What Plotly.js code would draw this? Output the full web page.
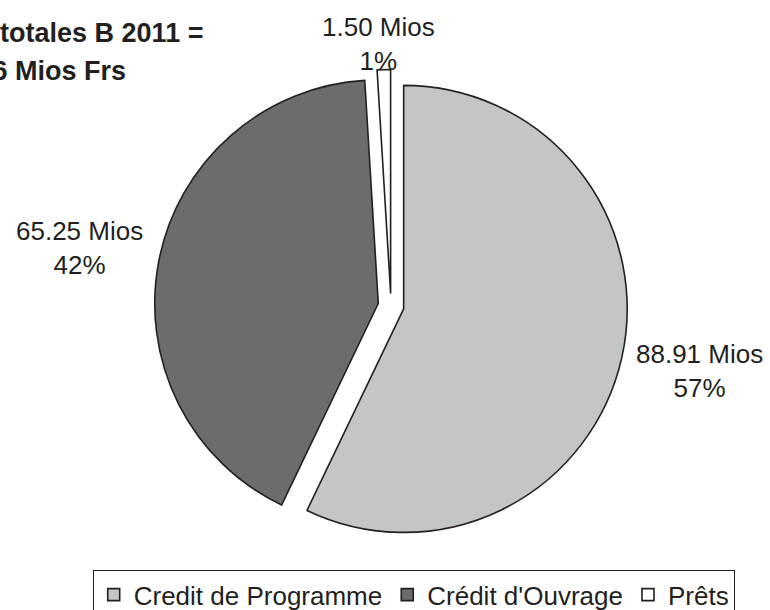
<!DOCTYPE html>
<html>
<head>
<meta charset="utf-8">
<script src="https://cdn.plot.ly/plotly-3.0.1.min.js"></script>
<style>html,body{margin:0;padding:0;background:#fff;}#chart{width:770px;height:610px;}</style>
</head>
<body>
<div id="chart"></div>
<script>
const categories = ["Credit de Programme", "Crédit d'Ouvrage", "Prêts"];
const values = [88.91, 65.25, 1.50];
const sliceColors = ["#c4c5c7", "#6b6c6e", "#ffffff"];
const valueUnit = "Mios";
const titleLine1 = "Dépenses totales B 2011 =";
const titleUnit = "Mios Frs";

const total = values.reduce((a, b) => a + b, 0);
const FONT = "Liberation Sans, Arial, sans-serif";
const INK = "#231f20";
const W = 770, H = 610;
const px = v => v / W;
const py = v => (H - v) / H;

const trace = {
  type: "pie",
  labels: categories,
  values: values,
  sort: false,
  direction: "clockwise",
  rotation: 0,
  pull: [0.058, 0.058, 0.058],
  marker: { colors: sliceColors, line: { color: INK, width: 1.6 } },
  textinfo: "none",
  hoverinfo: "none",
  automargin: false,
  domain: { x: [px(91), px(691)], y: [py(542.5), py(69.5)] }
};

// label anchor positions (pixels, centre of the two-line label)
const labelPos = [[699.5, 370.5], [79, 248], [378, 44.5]];
const sliceLabels = values.map((v, i) => ({
  xref: "paper", yref: "paper",
  x: px(labelPos[i][0]), y: py(labelPos[i][1]),
  xanchor: "center", yanchor: "middle", align: "center",
  text: v.toFixed(2) + " " + valueUnit + "<br>" + Math.round(v / total * 100) + "%",
  showarrow: false,
  font: { family: FONT, size: 26, color: INK }
}));

const layout = {
  width: W, height: H,
  margin: { l: 0, r: 0, t: 0, b: 0, autoexpand: false },
  paper_bgcolor: "#ffffff",
  plot_bgcolor: "#ffffff",
  font: { family: FONT, color: INK },
  showlegend: true,
  legend: {
    orientation: "h",
    x: px(414), xanchor: "center",
    y: py(570), yanchor: "top",
    bordercolor: INK, borderwidth: 1.2,
    font: { family: FONT, size: 26, color: INK },
    traceorder: "normal",
    itemwidth: 30
  },
  annotations: [
    { xref: "paper", yref: "paper", x: px(205), y: py(33), xanchor: "right", yanchor: "middle",
      text: "<b>" + titleLine1 + "</b>", showarrow: false,
      font: { family: FONT, size: 27, color: INK } },
    { xref: "paper", yref: "paper", x: px(128), y: py(71), xanchor: "right", yanchor: "middle",
      text: "<b>" + total.toFixed(2) + " " + titleUnit + "</b>", showarrow: false,
      font: { family: FONT, size: 27, color: INK } }
  ].concat(sliceLabels)
};

Plotly.newPlot("chart", [trace], layout, { displayModeBar: false, staticPlot: true });
</script>
</body>
</html>
